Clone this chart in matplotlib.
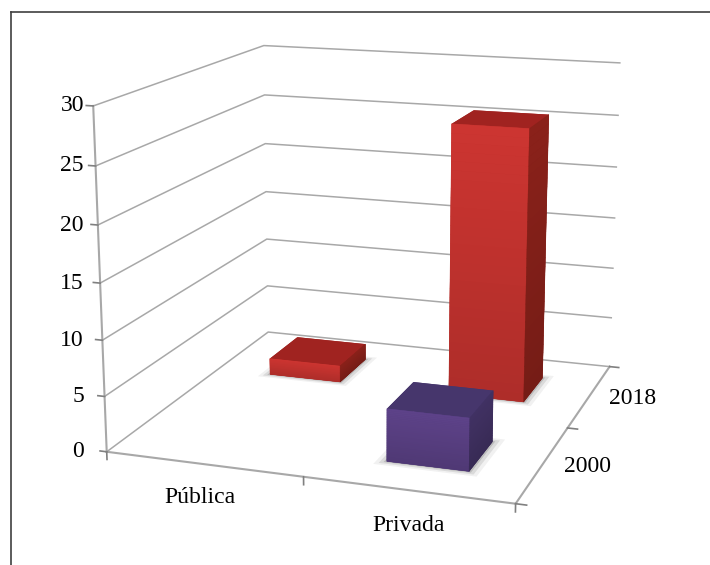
import matplotlib
matplotlib.use('Agg')
import matplotlib.pyplot as plt
import numpy as np
from matplotlib.colors import to_rgb
from matplotlib.lines import Line2D
from matplotlib.transforms import blended_transform_factory
from mpl_toolkits.mplot3d import proj3d
from mpl_toolkits.mplot3d.art3d import Poly3DCollection

plt.rcParams['font.family'] = ['Liberation Serif', 'DejaVu Serif']

categories = ['Pública', 'Privada']
series = ['2000', '2018']
values_2000 = [0, 4.7]
values_2018 = [1.6, 25.7]
z_ticks = [0, 5, 10, 15, 20, 25, 30]

bar_size = 0.4
grid_color = '#a8a8a8'
tick_color = '#808080'
# bottom, top, front, back, left, right
colors_2000 = ['#3b2e58', '#46366c', '#5a4084', '#46366c', '#46366c', '#3f3060']
colors_2018 = ['#7d1e1a', '#a02320', '#c5332f', '#a02320', '#a02320', '#852019']

fig = plt.figure(figsize=(7.1, 5.65), dpi=100)
ax = fig.add_axes([44 / 710, -14.5 / 565, 645 / 710, 645 / 565], projection='3d')
ax.set_proj_type('persp', focal_length=0.522)
ax.view_init(elev=14.4, azim=-71.3)
ax.set_box_aspect((0.2307, 0.2362, 0.1918))
ax.set_xlim(0, 2)
ax.set_ylim(0, 2)
ax.set_zlim(0, 30)
ax.set_axis_off()
ax.computed_zorder = False

# walls
for z in z_ticks:
    ax.plot([0, 0, 2], [0, 2, 2], [z, z, z], color=grid_color, lw=1.1, zorder=1)

# axis lines and tick marks
ax.plot([0, 0], [0, 0], [0, 30], color=grid_color, lw=1.5, zorder=1)
ax.plot([0, 2, 2], [0, 0, 2], [0, 0, 0], color=grid_color, lw=1.5, zorder=1)
for z in z_ticks:
    ax.plot([0, -0.035], [0, 0], [z, z], color=tick_color, lw=1.2, zorder=1)
for x in range(3):
    ax.plot([x, x], [0, 0], [0, -0.7], color=tick_color, lw=1.2, zorder=1)
for y in range(3):
    ax.plot([2, 2.05], [y, y], [0, 0], color=tick_color, lw=1.2, zorder=1)


def label_at(x, y, z, text, ha):
    # plain 2D text placed at the projected 3D position
    px, py, _ = proj3d.proj_transform(x, y, z, ax.get_proj())
    ax.text2D(px, py, text, transform=ax.transData, ha=ha, va='center', fontsize=17, color='black')


# value labels share one right edge
left_edge = blended_transform_factory(ax.transAxes, ax.transData)
for z in z_ticks:
    _, py, _ = proj3d.proj_transform(0, 0, z, ax.get_proj())
    ax.text2D(0.062, py, str(z), transform=left_edge, ha='right', va='center', fontsize=17, color='black')
for i, name in enumerate(categories):
    label_at(i + 0.57, -0.2, -1.4, name, 'center')
for j, name in enumerate(series):
    label_at(2.10, j + 0.5, -0.05, name, 'left')


def floor_shadow(x, y, zorder):
    # soft shadow on the floor around a column
    for grow, alpha in [(0.05, 0.08), (0.03, 0.14), (0.012, 0.22)]:
        x0, x1 = x - grow, x + bar_size + grow
        y0, y1 = y - grow, y + bar_size + grow
        quad = [[(x0, y0, 0), (x1, y0, 0), (x1, y1, 0), (x0, y1, 0)]]
        ax.add_collection3d(Poly3DCollection(quad, facecolor='#505050', edgecolor='none',
                                             alpha=alpha, zorder=zorder))


def shaded_face(corner_a, corner_b, value, base_color, zorder):
    # vertical face split in strips, darker towards the floor
    levels = np.linspace(0, value, 31)
    strips = []
    shades = []
    for k in range(30):
        z0, z1 = levels[k], levels[k + 1]
        strips.append([(*corner_a, z0), (*corner_b, z0), (*corner_b, z1), (*corner_a, z1)])
        shades.append(np.array(to_rgb(base_color)) * (0.88 + 0.16 * (k + 0.5) / 30))
    shades = np.clip(shades, 0, 1)
    ax.add_collection3d(Poly3DCollection(strips, facecolors=shades, edgecolors=shades,
                                         linewidths=0.3, zorder=zorder))


def column(x, y, value, face_colors, zorder):
    if value <= 0:
        return
    floor_shadow(x, y, zorder - 0.5)
    ax.bar3d(x, y, 0, bar_size, bar_size, value, color=face_colors, shade=False, zorder=zorder)
    x1, y1 = x + bar_size, y + bar_size
    shaded_face((x, y), (x1, y), value, face_colors[2], zorder + 0.1)
    shaded_face((x1, y), (x1, y1), value, face_colors[5], zorder + 0.1)


# back row first, front row over it
for i, value in enumerate(values_2018):
    column(i + 0.3, 1.3, value, colors_2018, 2 + i)
for i, value in enumerate(values_2000):
    column(i + 0.3, 0.3, value, colors_2000, 5 + i)

# chart frame: top and left edges only
fig.add_artist(Line2D([11 / 710, 1], [1 - 12 / 565, 1 - 12 / 565], color='#404040', lw=1.2))
fig.add_artist(Line2D([11 / 710, 11 / 710], [0, 1 - 12 / 565], color='#404040', lw=1.2))

fig.savefig('out.png', dpi=100)
